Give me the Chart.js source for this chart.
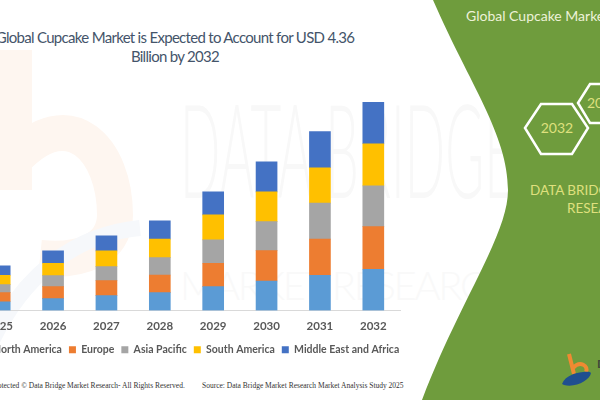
<!DOCTYPE html>
<html>
<head>
<meta charset="utf-8">
<script src="https://cdn.jsdelivr.net/npm/chart.js@4"></script>
<style>
  html, body { margin: 0; padding: 0; background: #fff; overflow: hidden; }
  body { position: relative; width: 600px; height: 400px; }
  #backdrop { position: absolute; left: 0; top: 0; }
  #chartBox { position: absolute; left: -60px; top: 0; width: 500px; height: 365px; }
  #title { position: absolute; left: -25px; top: 28px; width: 400px; text-align: center; white-space: nowrap;
           font: 15px/19px Lato, sans-serif; letter-spacing: -0.7px; color: #44546a; }
  .source { position: absolute; top: 381px; font: 7.5px "Liberation Serif", serif; color: #333; white-space: nowrap; }
</style>
</head>
<body>
<svg id="backdrop" width="600" height="400" xmlns="http://www.w3.org/2000/svg">
  <!-- faint watermark -->
  <path d="M14 50 V190 M14 160 C70 100 115 150 115 215 C115 250 80 262 40 258" fill="none" stroke="#fef6f0" stroke-width="36"/>
  <path d="M-10 345 C20 280 70 235 140 228" fill="none" stroke="#f6f8fb" stroke-width="16"/>
  <text x="180" y="198" font-family="Lato" font-weight="300" font-size="130" textLength="335" lengthAdjust="spacingAndGlyphs" fill="#f8f8f8">DATA BRIDGE</text>
  <text x="180" y="300" font-family="Lato" font-weight="300" font-size="40" textLength="335" fill="#f9f9f9">MARKET RESEARCH</text>
  <!-- green panel -->
  <path d="M433 0 C470 85 508 135 508 190 C508 235 460 300 422 400 H600 V0 Z" fill="#6f9c3d"/>
  <text x="466" y="21" font-family="Lato" font-size="14" fill="#edf2d8">Global Cupcake Market</text>
  <polygon points="525,128 541,104 572,104 588,128 572,154 541,154" fill="none" stroke="#fff" stroke-width="2.5"/>
  <text x="557" y="133" text-anchor="middle" font-family="Lato" font-size="14" fill="#dfe07e">2032</text>
  <polygon points="578,103 590,84 615,84 627,103 615,123 590,123" fill="none" stroke="#fff" stroke-width="2.5"/>
  <text x="587" y="108" font-family="Lato" font-size="14" fill="#dfe07e">2025</text>
  <text x="530" y="195" font-family="Lato" font-size="13.5" fill="#dfe07e">DATA BRIDGE MARKET</text>
  <text x="567" y="213" font-family="Lato" font-size="13.5" fill="#dfe07e">RESEARCH</text>
  <!-- logo -->
  <path d="M569 354 L574 374 M573 368 C580 360 589 366 586 372" fill="none" stroke="#f08a32" stroke-width="4"/>
  <path d="M562 384 C566 372 590 370 591 373 C590 380 576 388 564 385 Z M574 377 L570 384" fill="#1f4f8f"/>
  <text x="597" y="368" font-family="Lato" font-size="12" font-weight="700" fill="#3f4a3a">D</text>
</svg>
<div id="title">Global Cupcake Market is Expected to Account for USD 4.36<br>Billion by 2032</div>
<div id="chartBox"><canvas id="marketChart"></canvas></div>
<div class="source" style="left:-9px">Protected © Data Bridge Market Research-  All Rights Reserved.</div>
<div class="source" style="left:202px">Source: Data Bridge Market Research  Market Analysis Study 2025</div>
<script>
const years = ['2025', '2026', '2027', '2028', '2029', '2030', '2031', '2032'];
const northAmerica = [0.184, 0.247, 0.310, 0.373, 0.499, 0.618, 0.738, 0.864];
const europe = [0.189, 0.252, 0.314, 0.371, 0.491, 0.635, 0.755, 0.893];
const asiaPacific = [0.168, 0.231, 0.294, 0.363, 0.488, 0.608, 0.755, 0.853];
const southAmerica = [0.197, 0.260, 0.329, 0.386, 0.524, 0.623, 0.740, 0.881];
const middleEastAfrica = [0.195, 0.258, 0.314, 0.384, 0.482, 0.629, 0.755, 0.866];

const makeSet = (label, data, color) => ({
    label: label,
    data: data,
    backgroundColor: color,
    borderWidth: 0,
    barThickness: 21
});

// blank side axes: they push the bars in but the legend keeps the full width
const blankAxis = (position, width) => ({
    type: 'linear',
    position: position,
    stacked: true,
    min: 0,
    max: 6.5,
    grid: { display: false },
    border: { display: false },
    ticks: { display: false },
    afterFit: function(scale) { scale.width = width; }
});

new Chart(document.getElementById('marketChart').getContext('2d'), {
    type: 'bar',
    data: {
        labels: years,
        datasets: [
            makeSet('North America', northAmerica, '#5b9bd5'),
            makeSet('Europe', europe, '#ed7d31'),
            makeSet('Asia Pacific', asiaPacific, '#a5a5a5'),
            makeSet('South America', southAmerica, '#ffc000'),
            makeSet('Middle East and Africa', middleEastAfrica, '#4472c4')
        ]
    },
    options: {
        responsive: true,
        maintainAspectRatio: false,
        animation: false,
        layout: { padding: 0 },
        scales: {
            x: {
                stacked: true,
                grid: { display: false },
                border: { color: '#d9d9d9' },
                ticks: { color: '#595959', font: { family: 'Lato', size: 11.5, weight: '700' }, padding: 1, maxRotation: 0 },
                afterFit: function(scale) { scale.height = 27; }
            },
            y: blankAxis('left', 33),
            yRight: blankAxis('right', 40)
        },
        plugins: {
            tooltip: { enabled: false },
            legend: {
                position: 'bottom',
                labels: {
                    boxWidth: 7,
                    boxHeight: 7,
                    color: '#595959',
                    padding: 7,
                    font: { family: 'Lato', size: 10.5, weight: '700' }
                }
            }
        }
    }
});
</script>
</body>
</html>
